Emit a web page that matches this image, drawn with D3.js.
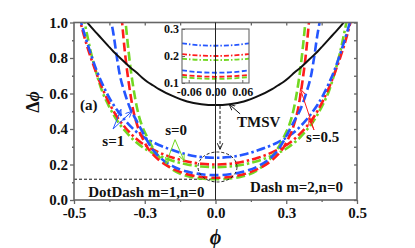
<!DOCTYPE html>
<html>
<head>
<meta charset="utf-8">
<script src="https://cdn.jsdelivr.net/npm/d3@7"></script>
<style>
  body { margin: 0; background: #fff; }
  text { font-family: "Liberation Serif", "Times New Roman", Times, serif; font-weight: bold; fill: #111; }
</style>
</head>
<body>
<svg id="chart" width="415" height="248"></svg>
<script>
// ---- data: [phi, delta phi] ----
var tmsv = [[-0.48,1.06],[-0.46,1.015],[-0.44,0.975],[-0.42,0.94],[-0.4,0.905],[-0.38,0.87],[-0.36,0.835],
  [-0.34,0.805],[-0.32,0.775],[-0.3,0.745],[-0.28,0.72],[-0.26,0.69],[-0.24,0.665],[-0.22,0.645],[-0.2,0.625],
  [-0.15,0.585],[-0.1,0.555],[-0.05,0.54],[0,0.535],[0.05,0.54],[0.1,0.555],[0.15,0.585],[0.2,0.625],[0.22,0.645],
  [0.24,0.665],[0.26,0.69],[0.28,0.72],[0.3,0.745],[0.32,0.775],[0.34,0.805],[0.36,0.835],[0.38,0.87],[0.4,0.905],
  [0.42,0.94],[0.44,0.975],[0.46,1.015],[0.48,1.06]]

// DotDash m=1,n=0
var dotDashS1 = [[-0.5,1.16],[-0.48,1.03],[-0.46,0.92],[-0.44,0.82],[-0.42,0.73],[-0.4,0.655],[-0.38,0.59],[-0.36,0.535],
  [-0.34,0.49],[-0.32,0.45],[-0.3,0.415],[-0.28,0.385],[-0.26,0.362],[-0.24,0.342],[-0.22,0.325],[-0.2,0.31],
  [-0.15,0.28],[-0.1,0.256],[-0.05,0.242],[0,0.238],[0.05,0.242],[0.1,0.256],[0.15,0.28],[0.2,0.31],[0.22,0.325],
  [0.24,0.342],[0.26,0.362],[0.28,0.385],[0.3,0.415],[0.32,0.45],[0.34,0.49],[0.36,0.535],[0.38,0.59],[0.4,0.655],
  [0.42,0.73],[0.44,0.82],[0.46,0.92],[0.48,1.03],[0.5,1.16]]
var dotDashS05 = [[-0.5,1.15],[-0.48,1.02],[-0.46,0.9],[-0.44,0.8],[-0.42,0.71],[-0.4,0.63],[-0.38,0.56],[-0.36,0.5],
  [-0.34,0.45],[-0.32,0.41],[-0.3,0.375],[-0.28,0.345],[-0.26,0.32],[-0.24,0.3],[-0.22,0.283],[-0.2,0.268],
  [-0.15,0.238],[-0.1,0.217],[-0.05,0.204],[0,0.2],[0.05,0.204],[0.1,0.217],[0.15,0.238],[0.2,0.268],[0.22,0.283],
  [0.24,0.3],[0.26,0.32],[0.28,0.345],[0.3,0.375],[0.32,0.41],[0.34,0.45],[0.36,0.5],[0.38,0.56],[0.4,0.63],
  [0.42,0.71],[0.44,0.8],[0.46,0.9],[0.48,1.02],[0.5,1.15]]
var dotDashS0 = [[-0.48,1.14],[-0.46,0.98],[-0.44,0.83],[-0.42,0.71],[-0.4,0.61],[-0.38,0.54],[-0.36,0.48],
  [-0.34,0.43],[-0.32,0.39],[-0.3,0.355],[-0.28,0.325],[-0.26,0.3],[-0.24,0.28],[-0.22,0.264],[-0.2,0.25],
  [-0.15,0.22],[-0.1,0.2],[-0.05,0.189],[0,0.185],[0.05,0.189],[0.1,0.2],[0.15,0.22],[0.2,0.25],[0.22,0.264],
  [0.24,0.28],[0.26,0.3],[0.28,0.325],[0.3,0.355],[0.32,0.39],[0.34,0.43],[0.36,0.48],[0.38,0.54],[0.4,0.61],
  [0.42,0.71],[0.44,0.83],[0.46,0.98],[0.48,1.14]]

// Dash m=2,n=0
var dashS1 = [[-0.38,1.12],[-0.37,1.02],[-0.36,0.93],[-0.35,0.82],[-0.34,0.72],[-0.32,0.6],[-0.3,0.51],[-0.28,0.45],
  [-0.26,0.39],[-0.24,0.33],[-0.22,0.28],[-0.2,0.245],[-0.15,0.19],[-0.1,0.16],[-0.05,0.145],[0,0.14],[0.05,0.145],
  [0.1,0.16],[0.15,0.19],[0.2,0.245],[0.22,0.28],[0.24,0.33],[0.26,0.39],[0.28,0.45],[0.3,0.51],[0.32,0.6],
  [0.34,0.72],[0.35,0.82],[0.36,0.93],[0.37,1.02],[0.38,1.12]]
var dashS05 = [[-0.34,1.18],[-0.33,1.0],[-0.32,0.83],[-0.31,0.7],[-0.3,0.59],[-0.29,0.5],[-0.28,0.44],[-0.27,0.39],
  [-0.26,0.355],[-0.24,0.295],[-0.22,0.255],[-0.2,0.225],[-0.15,0.175],[-0.1,0.145],[-0.05,0.13],[0,0.125],
  [0.05,0.13],[0.1,0.145],[0.15,0.175],[0.2,0.225],[0.22,0.255],[0.24,0.295],[0.26,0.355],[0.27,0.39],[0.28,0.44],
  [0.29,0.5],[0.3,0.59],[0.31,0.7],[0.32,0.83],[0.33,1.0],[0.34,1.18]]
var dashS0 = [[-0.33,1.2],[-0.32,1.04],[-0.31,0.88],[-0.3,0.74],[-0.29,0.63],[-0.28,0.54],[-0.27,0.47],[-0.26,0.42],
  [-0.24,0.35],[-0.22,0.29],[-0.2,0.245],[-0.15,0.17],[-0.1,0.135],[-0.05,0.121],[0,0.117],[0.05,0.121],
  [0.1,0.135],[0.15,0.17],[0.2,0.245],[0.22,0.29],[0.24,0.35],[0.26,0.42],[0.27,0.47],[0.28,0.54],[0.29,0.63],
  [0.3,0.74],[0.31,0.88],[0.32,1.04],[0.33,1.2]]

// inset (zoom around phi = 0)
var insetPhi = [-0.075, -0.0375, 0, 0.0375, 0.075]
var insetDotDashS1 = [0.247, 0.24, 0.238, 0.24, 0.247]
var insetDotDashS05 = [0.207, 0.202, 0.2, 0.202, 0.207]
var insetDotDashS0 = [0.19, 0.186, 0.185, 0.186, 0.19]
var insetDashS1 = [0.147, 0.14, 0.138, 0.14, 0.147]
var insetDashS05 = [0.13, 0.125, 0.123, 0.125, 0.13]
var insetDashS0 = [0.122, 0.117, 0.115, 0.117, 0.122]

var xTicks = [-0.5, -0.25, 0, 0.25, 0.5]
var xTickLabels = ['-0.5', '-0.3', '0.0', '0.3', '0.5']
var yTicks = [0, 0.2, 0.4, 0.6, 0.8, 1.0]
var insetXTicks = [-0.06, 0, 0.06]
var insetXTickLabels = ['-0.06', '0.00', '0.06']
var insetYTicks = [0.1, 0.2, 0.3]

var blue = '#2456ff', red = '#ff1c1c', green = '#72d822'
var DASH = '9,4', DOTDASH = '9,3,2.5,3'
var FONT = '"Liberation Serif", "Times New Roman", Times, serif'

var svg = d3.select('#chart')

var x = d3.scaleLinear().domain([-0.5, 0.5]).range([74, 357])
var y = d3.scaleLinear().domain([0, 1]).range([200, 22.5])

// clip to plot area
svg.append('clipPath').attr('id', 'plotClip')
  .append('rect').attr('x', 74).attr('y', 22.5).attr('width', 283).attr('height', 177.5)

// arrow heads
var defs = svg.append('defs')
;[['arBlue', blue], ['arRed', red], ['arGreen', green], ['arBlack', '#111']].forEach(function (m) {
  defs.append('marker').attr('id', m[0])
    .attr('viewBox', '0 0 10 10').attr('refX', 9).attr('refY', 5)
    .attr('markerWidth', 7).attr('markerHeight', 7).attr('markerUnits', 'userSpaceOnUse')
    .attr('orient', 'auto')
    .append('path').attr('d', 'M0,1 L9,5 L0,9').attr('fill', 'none')
    .attr('stroke', m[1]).attr('stroke-width', 1.3)
})

var line = d3.line()
  .x(function (d) { return x(d[0]) })
  .y(function (d) { return y(d[1]) })
  .curve(d3.curveMonotoneX)

var plot = svg.append('g').attr('clip-path', 'url(#plotClip)')

// reference line at the lowest minimum
plot.append('line')
  .attr('x1', x(-0.5)).attr('x2', x(0)).attr('y1', y(0.117)).attr('y2', y(0.117))
  .attr('stroke', '#111').attr('stroke-width', 1).attr('stroke-dasharray', '3,2')

var series = [
  { d: dotDashS0, c: green, dash: DOTDASH },
  { d: dotDashS05, c: red, dash: DOTDASH },
  { d: dotDashS1, c: blue, dash: DOTDASH },
  { d: dashS0, c: green, dash: DASH },
  { d: dashS05, c: red, dash: DASH },
  { d: dashS1, c: blue, dash: DASH }
]

plot.selectAll('path.curve')
  .data(series)
  .enter().append('path')
  .attr('class', 'curve')
  .attr('fill', 'none')
  .attr('stroke', function (s) { return s.c })
  .attr('stroke-width', 2.6)
  .attr('stroke-dasharray', function (s) { return s.dash })
  .attr('d', function (s) { return line(s.d) })

plot.append('path')
  .datum(tmsv)
  .attr('fill', 'none')
  .attr('stroke', '#111')
  .attr('stroke-width', 2)
  .attr('d', line)

// dashed circle around the minimum, and dashed arrow to it
svg.append('ellipse')
  .attr('cx', x(0.007)).attr('cy', y(0.186)).attr('rx', 19.5).attr('ry', 15)
  .attr('fill', 'none').attr('stroke', '#222').attr('stroke-width', 1).attr('stroke-dasharray', '3,2')
svg.append('line')
  .attr('x1', x(0.016)).attr('x2', x(0.016)).attr('y1', y(0.53)).attr('y2', y(0.285))
  .attr('stroke', '#111').attr('stroke-width', 1).attr('stroke-dasharray', '3,2')
  .attr('marker-end', 'url(#arBlack)')

// annotation arrows
function arrow(from, to, marker, color) {
  svg.append('line')
    .attr('x1', x(from[0])).attr('y1', y(from[1]))
    .attr('x2', x(to[0])).attr('y2', y(to[1]))
    .attr('stroke', color).attr('stroke-width', 1)
    .attr('marker-end', 'url(#' + marker + ')')
}
arrow([-0.362, 0.4], [-0.334, 0.51], 'arBlue', blue)
arrow([-0.362, 0.4], [-0.295, 0.5], 'arBlue', blue)
arrow([-0.143, 0.34], [-0.175, 0.205], 'arGreen', green)
arrow([-0.143, 0.34], [-0.111, 0.222], 'arGreen', green)
arrow([0.087, 0.485], [0.048, 0.54], 'arBlack', '#111')
arrow([0.348, 0.395], [0.3, 0.625], 'arRed', red)
arrow([0.348, 0.395], [0.33, 0.462], 'arRed', red)

// labels inside the plot
var notes = [
  { t: '(a)', p: [-0.479, 0.507] },
  { t: 's=1', p: [-0.4, 0.304] },
  { t: 's=0', p: [-0.178, 0.366] },
  { t: 'TMSV', p: [0.076, 0.411] },
  { t: 's=0.5', p: [0.32, 0.327] },
  { t: 'DotDash m=1,n=0', p: [-0.45, 0.017] },
  { t: 'Dash m=2,n=0', p: [0.122, 0.045] }
]
svg.selectAll('text.note')
  .data(notes)
  .enter().append('text')
  .attr('class', 'note')
  .attr('x', function (d) { return x(d.p[0]) })
  .attr('y', function (d) { return y(d.p[1]) })
  .style('font-size', '15px')
  .text(function (d) { return d.t })

// axes
var frame = '#666'
var gx = svg.append('g').attr('transform', 'translate(0,200)')
  .call(d3.axisBottom(x).tickValues(xTicks).tickFormat(function (d, i) { return xTickLabels[i] }).tickSize(4).tickPadding(3))
var gxm = svg.append('g').attr('transform', 'translate(0,200)')
  .call(d3.axisBottom(x).tickValues([-0.375, -0.125, 0.125, 0.375]).tickFormat('').tickSize(2))
var gxt = svg.append('g').attr('transform', 'translate(0,22.5)')
  .call(d3.axisTop(x).tickValues([-0.375, -0.25, -0.125, 0.125, 0.25, 0.375]).tickFormat('').tickSizeInner(-3).tickSizeOuter(0))
var gy = svg.append('g').attr('transform', 'translate(74,0)')
  .call(d3.axisLeft(y).tickValues(yTicks).tickFormat(d3.format('.1f')).tickSize(4).tickPadding(2))
var gym = svg.append('g').attr('transform', 'translate(74,0)')
  .call(d3.axisLeft(y).tickValues([0.1, 0.3, 0.5, 0.7, 0.9]).tickFormat('').tickSize(2))
var gyr = svg.append('g').attr('transform', 'translate(357,0)')
  .call(d3.axisRight(y).ticks(10).tickFormat('').tickSizeInner(-3).tickSizeOuter(0))

;[gx, gxm, gxt, gy, gym, gyr].forEach(function (g) {
  g.select('.domain').remove()
  g.selectAll('line').attr('stroke', frame).attr('stroke-width', 1.3)
  g.selectAll('text').style('font-size', '15px').style('font-family', FONT)
    .style('font-weight', 'bold').attr('fill', '#111')
})

svg.append('rect')
  .attr('x', 74).attr('y', 22.5).attr('width', 283).attr('height', 177.5)
  .attr('fill', 'none').attr('stroke', frame).attr('stroke-width', 1.6)

// axis titles
svg.append('text')
  .attr('x', x(0)).attr('y', 244)
  .attr('text-anchor', 'middle')
  .style('font-size', '20px').style('font-style', 'italic')
  .text('ϕ')
var yt = svg.append('text')
  .attr('transform', 'translate(39,102) rotate(-90)')
  .attr('text-anchor', 'middle')
  .style('font-size', '18px')
yt.append('tspan').text('Δ')
yt.append('tspan').style('font-style', 'italic').text('ϕ')

// ---- inset ----
var ix = d3.scaleLinear().domain([-0.075, 0.075]).range([182, 249])
var iy = d3.scaleLinear().domain([0.1, 0.3]).range([83, 29])

var insetLine = d3.line()
  .x(function (d) { return ix(d[0]) })
  .y(function (d) { return iy(d[1]) })
  .curve(d3.curveMonotoneX)

var insetSeries = [
  { v: insetDotDashS1, c: blue, dash: '5,2,1.5,2' },
  { v: insetDotDashS05, c: red, dash: '5,2,1.5,2' },
  { v: insetDotDashS0, c: green, dash: '5,2,1.5,2' },
  { v: insetDashS1, c: blue, dash: '5,2.5' },
  { v: insetDashS05, c: red, dash: '5,2.5' },
  { v: insetDashS0, c: green, dash: '5,2.5' }
]
var inset = svg.append('g')
inset.selectAll('path')
  .data(insetSeries)
  .enter().append('path')
  .attr('fill', 'none')
  .attr('stroke', function (s) { return s.c })
  .attr('stroke-width', 1.8)
  .attr('stroke-dasharray', function (s) { return s.dash })
  .attr('d', function (s) { return insetLine(insetPhi.map(function (p, i) { return [p, s.v[i]] })) })

var ixa = inset.append('g').attr('transform', 'translate(0,83)')
  .call(d3.axisBottom(ix).tickValues(insetXTicks).tickFormat(function (d, i) { return insetXTickLabels[i] }).tickSizeInner(-3).tickSizeOuter(0).tickPadding(4))
var iya = inset.append('g').attr('transform', 'translate(182,0)')
  .call(d3.axisLeft(iy).tickValues(insetYTicks).tickFormat(d3.format('.1f')).tickSizeInner(-3).tickSizeOuter(0).tickPadding(3))
;[ixa, iya].forEach(function (g) {
  g.select('.domain').remove()
  g.selectAll('line').attr('stroke', frame).attr('stroke-width', 1)
  g.selectAll('text').style('font-size', '12px').style('font-family', FONT)
    .style('font-weight', 'bold').attr('fill', '#111')
})
inset.append('rect')
  .attr('x', 182).attr('y', 29).attr('width', 67).attr('height', 54)
  .attr('fill', 'none').attr('stroke', frame).attr('stroke-width', 1.1)

// phi = 0 line
svg.append('line')
  .attr('x1', x(0)).attr('x2', x(0)).attr('y1', y(1)).attr('y2', y(0))
  .attr('stroke', '#222').attr('stroke-width', 1)
</script>
</body>
</html>
